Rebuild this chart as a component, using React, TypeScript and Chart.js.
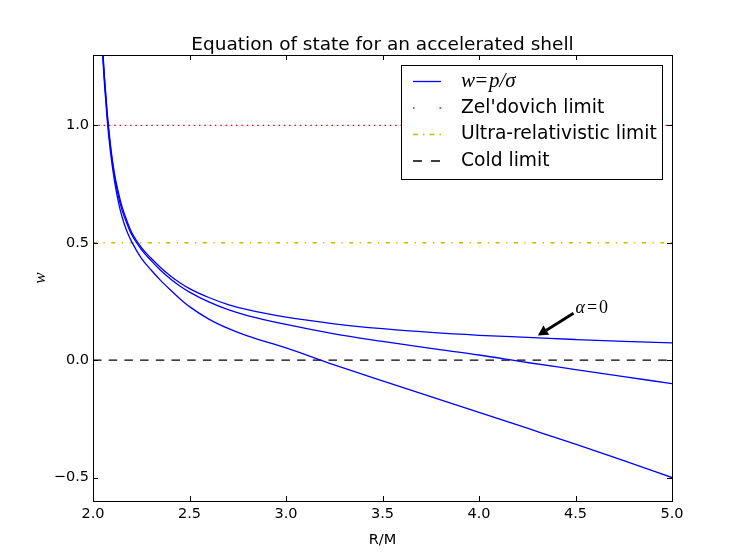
import React, { useEffect, useRef } from "react";
import { Chart, registerables } from "chart.js";

Chart.register(...registerables);

// text
const titleText = "Equation of state for an accelerated shell";
const xLabel = "R/M";
const yLabel = "w";
const legendLabels = ["w=p/σ", "Zel'dovich limit", "Ultra-relativistic limit", "Cold limit"];

// ticks
const xTicks = [2.0, 2.5, 3.0, 3.5, 4.0, 4.5, 5.0];
const yTicks = [-0.5, 0.0, 0.5, 1.0];

// R/M sample points
const rValues = [
  2.04, 2.048, 2.06, 2.073, 2.09, 2.11, 2.13, 2.15, 2.175, 2.2, 2.25, 2.3, 2.35, 2.4, 2.45,
  2.5, 2.6, 2.7, 2.8, 3.0, 3.25, 3.5, 3.75, 4.0, 4.25, 4.5, 4.75, 5.0,
];
// alpha = 0 (top curve)
const wUpper = [
  1.5, 1.36, 1.2, 1.06, 0.92, 0.8, 0.72, 0.655, 0.595, 0.545, 0.48, 0.435, 0.395, 0.36, 0.33,
  0.305, 0.267, 0.237, 0.215, 0.183, 0.155, 0.134, 0.118, 0.106, 0.097, 0.088, 0.08, 0.074,
];
const wMiddle = [
  1.49, 1.35, 1.19, 1.05, 0.91, 0.79, 0.705, 0.64, 0.583, 0.535, 0.472, 0.425, 0.383, 0.347, 0.316,
  0.29, 0.248, 0.215, 0.19, 0.152, 0.112, 0.08, 0.05, 0.022, -0.01, -0.04, -0.07, -0.1,
];
const wLower = [
  1.47, 1.33, 1.17, 1.03, 0.89, 0.77, 0.68, 0.612, 0.55, 0.505, 0.435, 0.385, 0.34, 0.3, 0.262,
  0.228, 0.175, 0.135, 0.103, 0.052, -0.02, -0.088, -0.155, -0.222, -0.29, -0.358, -0.428, -0.5,
];

// horizontal limits
const xRange = [2.0, 5.0];
const zeldovichLimit = 1.0;
const ultraRelLimit = 0.5;
const coldLimit = 0.0;

// annotation
const annotationTip = { x: 4.305, y: 0.105 };
const annotationText = { x: 4.5, y: 0.2 };

const FONT = '"DejaVu Sans", sans-serif';
const SERIF = '"Liberation Serif", "DejaVu Serif", serif';

const fmt = (v: number) => (v < 0 ? "\u2212" + Math.abs(v).toFixed(1) : v.toFixed(1));

const decorations = {
  id: "decorations",
  afterDraw(chart: Chart) {
    const { ctx, chartArea: a } = chart;
    const xs = chart.scales.x;
    const ys = chart.scales.y;
    ctx.save();

    // frame
    ctx.strokeStyle = "#000";
    ctx.lineWidth = 1;
    ctx.setLineDash([]);
    ctx.strokeRect(a.left + 0.5, a.top + 0.5, a.right - a.left, a.bottom - a.top);

    // inward ticks on all sides
    ctx.beginPath();
    xTicks.forEach((v) => {
      const px = Math.round(xs.getPixelForValue(v)) + 0.5;
      ctx.moveTo(px, a.bottom);
      ctx.lineTo(px, a.bottom - 5);
      ctx.moveTo(px, a.top);
      ctx.lineTo(px, a.top + 5);
    });
    yTicks.forEach((v) => {
      const py = Math.round(ys.getPixelForValue(v)) + 0.5;
      ctx.moveTo(a.left, py);
      ctx.lineTo(a.left + 5, py);
      ctx.moveTo(a.right, py);
      ctx.lineTo(a.right - 5, py);
    });
    ctx.stroke();

    // title
    ctx.fillStyle = "#000";
    ctx.font = `18.5px ${FONT}`;
    ctx.textAlign = "center";
    ctx.textBaseline = "alphabetic";
    ctx.fillText(titleText, (a.left + a.right) / 2, 50);

    // x label
    ctx.font = `14.5px ${FONT}`;
    ctx.fillText(xLabel, (a.left + a.right) / 2, 544);

    // y label
    ctx.save();
    ctx.translate(45, (a.top + a.bottom) / 2);
    ctx.rotate(-Math.PI / 2);
    ctx.font = `italic 17px ${SERIF}`;
    ctx.fillText(yLabel, 0, 0);
    ctx.restore();

    // annotation arrow
    const tipX = xs.getPixelForValue(annotationTip.x);
    const tipY = ys.getPixelForValue(annotationTip.y);
    const txtX = xs.getPixelForValue(annotationText.x);
    const txtY = ys.getPixelForValue(annotationText.y);
    const tailX = txtX - 2;
    const tailY = txtY;
    const ang = Math.atan2(tipY - tailY, tipX - tailX);
    const headLen = 10;
    const headW = 5.5;
    const baseX = tipX - headLen * Math.cos(ang);
    const baseY = tipY - headLen * Math.sin(ang);
    ctx.lineWidth = 2.8;
    ctx.beginPath();
    ctx.moveTo(tailX, tailY);
    ctx.lineTo(baseX, baseY);
    ctx.stroke();
    ctx.beginPath();
    ctx.moveTo(tipX, tipY);
    ctx.lineTo(baseX + headW * Math.sin(ang), baseY - headW * Math.cos(ang));
    ctx.lineTo(baseX - headW * Math.sin(ang), baseY + headW * Math.cos(ang));
    ctx.closePath();
    ctx.fill();

    ctx.textAlign = "left";
    ctx.font = `italic 18px ${SERIF}`;
    ctx.fillText("α", txtX, txtY);
    let ox = txtX + ctx.measureText("α").width + 2;
    ctx.font = `18px ${SERIF}`;
    ctx.fillText("=", ox, txtY);
    ox += ctx.measureText("=").width + 2;
    ctx.fillText("0", ox, txtY);

    // legend
    const bx = 401.5;
    const by = 65.5;
    const bw = 261;
    const bh = 114;
    ctx.fillStyle = "#fff";
    ctx.fillRect(bx, by, bw, bh);
    ctx.strokeStyle = "#000";
    ctx.lineWidth = 1;
    ctx.strokeRect(bx, by, bw, bh);

    const rows = [81.5, 108, 134.5, 161];
    const styles = [
      { color: "#0000ff", dash: [] as number[] },
      { color: "#ff0000", dash: [1.5, 25] },
      { color: "#bfbf00", dash: [5, 5, 1.5, 5] },
      { color: "#000000", dash: [9, 9] },
    ];
    rows.forEach((ry, i) => {
      ctx.strokeStyle = styles[i].color;
      ctx.lineWidth = 1.3;
      ctx.setLineDash(styles[i].dash);
      ctx.beginPath();
      ctx.moveTo(413, ry);
      ctx.lineTo(441, ry);
      ctx.stroke();
    });
    ctx.setLineDash([]);
    ctx.fillStyle = "#000";
    ctx.textBaseline = "middle";

    // first label is math text
    ctx.font = `italic 21px ${SERIF}`;
    ctx.fillText("w", 461, rows[0]);
    ctx.font = `21px ${SERIF}`;
    ctx.fillText("=", 475.5, rows[0]);
    ctx.font = `italic 21px ${SERIF}`;
    ctx.fillText("p/σ", 489, rows[0]);

    ctx.font = `18.7px ${FONT}`;
    for (let i = 1; i < legendLabels.length; i++) {
      ctx.fillText(legendLabels[i], 461, rows[i]);
    }

    ctx.restore();
  },
};

const toPoints = (ws: number[]) => rValues.map((r, i) => ({ x: r, y: ws[i] }));
const hLine = (v: number) => xRange.map((r) => ({ x: r, y: v }));

const App = () => {
  const canvasRef = useRef<HTMLCanvasElement | null>(null);

  useEffect(() => {
    if (!canvasRef.current) return;
    const curve = (data: number[], label: string) => ({
      label,
      data: toPoints(data),
      borderColor: "#0000ff",
      borderWidth: 1.3,
      pointRadius: 0,
      cubicInterpolationMode: "monotone" as const,
      fill: false,
    });
    const limit = (v: number, label: string, color: string, dash: number[]) => ({
      label,
      data: hLine(v),
      borderColor: color,
      borderWidth: 1.4,
      borderDash: dash,
      pointRadius: 0,
      fill: false,
    });

    const chart = new Chart(canvasRef.current, {
      type: "line",
      data: {
        datasets: [
          curve(wUpper, legendLabels[0]),
          curve(wMiddle, legendLabels[0]),
          curve(wLower, legendLabels[0]),
          limit(zeldovichLimit, legendLabels[1], "#ff0000", [1.5, 3.8]),
          limit(ultraRelLimit, legendLabels[2], "#bfbf00", [4, 6.5, 1.3, 6.5]),
          limit(coldLimit, legendLabels[3], "#000000", [8.5, 7.2]),
        ],
      },
      options: {
        animation: false,
        responsive: true,
        maintainAspectRatio: false,
        devicePixelRatio: 1,
        layout: { padding: { top: 55, right: 75, left: 0, bottom: 0 } },
        plugins: {
          legend: { display: false },
          title: { display: false },
          tooltip: { enabled: false },
        },
        scales: {
          x: {
            type: "linear",
            min: 2,
            max: 5,
            afterFit: (s: any) => {
              s.height = 57;
            },
            afterBuildTicks: (s: any) => {
              s.ticks = xTicks.map((v) => ({ value: v }));
            },
            grid: { display: false, drawTicks: false },
            border: { display: false },
            ticks: {
              padding: 5,
              maxRotation: 0,
              autoSkip: false,
              color: "#000",
              font: { family: FONT, size: 14.5 },
              callback: (v: any) => fmt(Number(v)),
            },
          },
          y: {
            type: "linear",
            min: -0.6,
            max: 1.3,
            afterFit: (s: any) => {
              s.width = 93;
            },
            afterBuildTicks: (s: any) => {
              s.ticks = yTicks.map((v) => ({ value: v }));
            },
            grid: { display: false, drawTicks: false },
            border: { display: false },
            ticks: {
              padding: 4,
              autoSkip: false,
              color: "#000",
              font: { family: FONT, size: 14.5 },
              callback: (v: any) => fmt(Number(v)),
            },
          },
        },
      },
      plugins: [decorations],
    });

    return () => {
      chart.destroy();
    };
  }, []);

  return (
    <div style={{ position: "fixed", left: 0, top: 0, width: 747, height: 558, background: "#fff" }}>
      <canvas ref={canvasRef} />
    </div>
  );
};

export default App;
